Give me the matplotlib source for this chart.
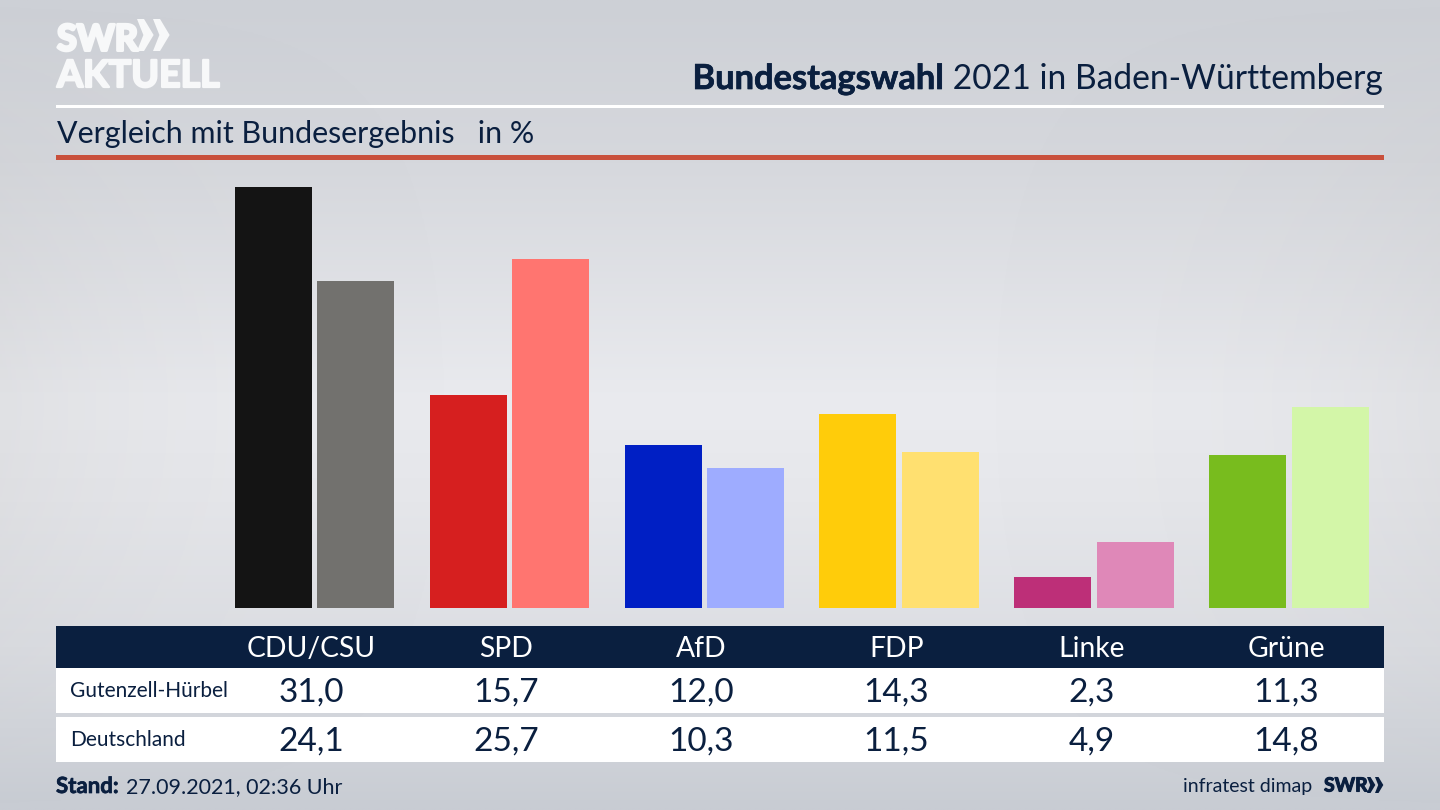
#!/usr/bin/env python3
import numpy as np
import matplotlib
matplotlib.use("Agg")
import matplotlib.pyplot as plt
import matplotlib.patheffects as pe
from matplotlib.colors import LinearSegmentedColormap
from matplotlib.patches import Polygon, Rectangle

plt.rcParams["font.family"] = ["Lato", "DejaVu Sans"]

parties = ["CDU/CSU", "SPD", "AfD", "FDP", "Linke", "Grüne"]
local_values = [31.0, 15.7, 12.0, 14.3, 2.3, 11.3]
national_values = [24.1, 25.7, 10.3, 11.5, 4.9, 14.8]
local_colors = ["#141414", "#d61f1f", "#001fc4", "#ffcc0a", "#bd2f78", "#78bc1e"]
national_colors = ["#72716e", "#ff7570", "#9eacff", "#ffe070", "#df88b8", "#d3f6a8"]
row_names = ["Gutenzell-Hürbel", "Deutschland"]

NAVY = "#0a1f3f"
LOGO = "#f7f8f9"
PX_PER_UNIT = 13.57
SLOT = 194.85
FIRST_CENTER = 314.6
BAR_W = 77 / SLOT
BAR_GAP = 5.4 / SLOT


def fmt(v):
    return f"{v:.1f}".replace(".", ",")


def chevrons(ax, x, y, h, color):
    # two arrow heads of the SWR logo, x/y = top left in pixels
    for dx in (0, h * 0.5):
        ax.add_patch(Polygon(
            [(x + dx, y), (x + dx + h * 0.22, y), (x + dx + h * 0.52, y + h / 2),
             (x + dx + h * 0.22, y + h), (x + dx, y + h), (x + dx + h * 0.2, y + h / 2)],
            closed=True, fc=color, ec="none"))


def heavy(width, color):
    return [pe.withStroke(linewidth=width, foreground=color)]


fig = plt.figure(figsize=(14.4, 8.1), dpi=100)

# background gradient, slightly darker towards the side edges
bg = fig.add_axes([0, 0, 1, 1], zorder=0)
bg.axis("off")
cmap = LinearSegmentedColormap.from_list("bg", [
    (0.0, "#cdd0d6"), (0.2, "#d6d8dd"), (0.5, "#eaebef"), (0.62, "#e6e7eb"),
    (0.8, "#dcdee3"), (1.0, "#c8ccd3")])
yy = np.linspace(0, 1, 256)[:, None]
edge = np.abs(np.linspace(-1, 1, 512))[None, :] ** 4
bg.imshow(yy * np.ones((256, 512)), aspect="auto", cmap=cmap, vmin=0, vmax=1, extent=(0, 1, 1, 0))
shade = np.full((256, 512, 4), 0.72)
shade[:, :, 3] = edge * 0.18 * np.sin(np.pi * yy)
bg.imshow(shade, aspect="auto", extent=(0, 1, 1, 0))
bg.set_xlim(0, 1)
bg.set_ylim(1, 0)

# bars, baseline at y=608 px
ax = fig.add_axes([56 / 1440, (810 - 608) / 810, (1384 - 56) / 1440, (608 - 160) / 810], zorder=1)
ax.patch.set_alpha(0)
ax.axis("off")
x = np.arange(len(parties))
ax.bar(x - (BAR_W + BAR_GAP) / 2, local_values, BAR_W, color=local_colors)
ax.bar(x + (BAR_W + BAR_GAP) / 2, national_values, BAR_W, color=national_colors)
ax.set_xlim((56 - FIRST_CENTER) / SLOT, (1384 - FIRST_CENTER) / SLOT)
ax.set_ylim(0, (608 - 160) / PX_PER_UNIT)

# everything else in pixel coordinates
ov = fig.add_axes([0, 0, 1, 1], zorder=2)
ov.patch.set_alpha(0)
ov.axis("off")
ov.set_xlim(0, 1440)
ov.set_ylim(810, 0)

ov.add_patch(Rectangle((56, 105), 1328, 2.6, fc="white", ec="none"))
ov.add_patch(Rectangle((56, 155), 1328, 5, fc="#c9503c", ec="none"))
ov.add_patch(Rectangle((56, 626), 1328, 42, fc=NAVY, ec="none"))
ov.add_patch(Rectangle((56, 668), 1328, 45, fc="white", ec="none"))
ov.add_patch(Rectangle((56, 717), 1328, 45, fc="white", ec="none"))

# logo
ov.text(57, 50.5, "SWR", color=LOGO, fontsize=26, fontweight="bold", va="baseline", ha="left",
        path_effects=heavy(2.2, LOGO))
chevrons(ov, 137, 19, 32, LOGO)
ov.text(57, 87, "AKTUELL", color=LOGO, fontsize=27, fontweight="bold", va="baseline", ha="left",
        path_effects=heavy(1.6, LOGO))

# title, bold part sits directly left of the regular part
title = ov.text(1383, 89, " 2021 in Baden-Württemberg", color=NAVY, fontsize=24.2, ha="right", va="baseline")
fig.canvas.draw()
bb = title.get_window_extent()
ov.text(bb.x0, 89, "Bundestagswahl", color=NAVY, fontsize=24.8, fontweight="bold", ha="right", va="baseline",
        path_effects=heavy(0.5, NAVY))

ov.text(57, 142.5, "Vergleich mit Bundesergebnis   in %", color=NAVY, fontsize=21.9, ha="left", va="baseline")

for i, party in enumerate(parties):
    cx = 311.5 + 195 * i
    ov.text(cx, 657, party, color="white", fontsize=20.3, ha="center", va="baseline")
    ov.text(cx, 702, fmt(local_values[i]), color=NAVY, fontsize=24, ha="center", va="baseline")
    ov.text(cx, 751, fmt(national_values[i]), color=NAVY, fontsize=24, ha="center", va="baseline")

ov.text(70, 697, row_names[0], color=NAVY, fontsize=15, ha="left", va="baseline")
ov.text(70, 746, row_names[1], color=NAVY, fontsize=15, ha="left", va="baseline")

# footer
ov.text(56, 793, "Stand:", color=NAVY, fontsize=16, fontweight="bold", ha="left", va="baseline",
        path_effects=heavy(0.5, NAVY))
ov.text(126, 793, "27.09.2021, 02:36 Uhr", color=NAVY, fontsize=15.5, ha="left", va="baseline")
ov.text(1312, 792, "infratest dimap", color=NAVY, fontsize=14, ha="right", va="baseline")
ov.text(1324, 791.5, "SWR", color=NAVY, fontsize=14, fontweight="bold", ha="left", va="baseline",
        path_effects=heavy(0.8, NAVY))
chevrons(ov, 1367, 777, 16, NAVY)

fig.savefig("out.png", dpi=100)
